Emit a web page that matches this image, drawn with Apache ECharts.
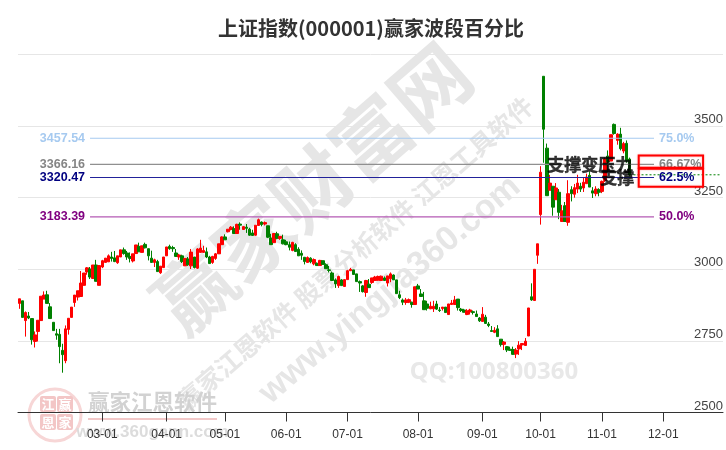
<!DOCTYPE html>
<html><head><meta charset="utf-8"><style>html,body{margin:0;padding:0;background:#fff}#c{width:726px;height:450px}</style>
<script src="https://cdn.jsdelivr.net/npm/echarts@6/dist/echarts.min.js"></script></head><body><div id="c"></div>
<script>
const opens=[2881,2890,2821,2837,2828,2748,2783,2821,2896,2911,
2869,2815,2775,2773,2717,2681,2790,2832,2884,2903,
2905,2944,2991,3001,2968,3015,2944,3008,3024,3026,
3043,3040,3023,3043,3068,3057,3045,3029,3055,3080,
3059,3087,3072,3039,3024,3027,2988,3006,3047,3080,
3076,3057,3043,3047,3012,3036,3012,3043,3004,3059,
3059,3061,3043,3024,3038,3054,3086,3113,3131,3139,
3142,3125,3158,3139,3147,3140,3127,3119,3153,3165,
3158,3152,3109,3093,3124,3108,3103,3096,3086,3066,
3086,3070,3056,3042,3024,3039,3019,3021,3013,3030,
3016,2998,2987,2963,2943,2963,2940,2964,2995,2998,
2984,2957,2942,2919,2948,2954,2961,2962,2961,2970,
2952,2967,2980,2963,2911,2893,2884,2885,2885,2877,
2942,2914,2890,2879,2862,2862,2879,2858,2863,2868,
2842,2877,2877,2896,2861,2858,2842,2851,2852,2844,
2830,2818,2833,2809,2786,2780,2792,2756,2738,2730,
2721,2720,2704,2722,2736,2734,2767,2904,2891,3049,
3191,3674,3423,3276,3290,3243,3269,3167,3222,3164,
3278,3262,3280,3290,3284,3299,3328,3274,3264,3278,
3272,3310,3395,3378,3506,3450,3472,3413,3440,3385];
const closes=[2897,2832,2849,2830,2754,2771,2822,2906,2910,2881,
2828,2786,2770,2730,2702,2792,2829,2868,2910,2925,
2952,2987,3005,2973,3015,2958,3013,3030,3039,3047,
3038,3027,3047,3068,3055,3043,3038,3054,3085,3061,
3082,3075,3047,3024,3033,2992,3011,3043,3078,3072,
3072,3045,3050,3027,3038,3016,3060,3006,3071,3074,
3066,3043,3020,3045,3054,3089,3113,3103,3140,3147,
3125,3157,3154,3149,3143,3119,3118,3154,3173,3156,
3163,3112,3086,3125,3108,3115,3089,3086,3077,3094,
3062,3047,3049,3027,3041,3026,3034,3013,3031,3017,
3002,2996,2961,2949,2975,2943,2964,2995,3000,2982,
2957,2952,2922,2961,2936,2970,2973,2975,2976,2961,
2977,2984,2963,2915,2901,2885,2893,2894,2877,2939,
2931,2905,2859,2864,2871,2871,2861,2856,2868,2849,
2879,2882,2893,2866,2856,2850,2855,2858,2849,2835,
2820,2843,2811,2804,2783,2787,2765,2737,2746,2718,
2717,2703,2718,2735,2741,2749,2865,2893,3000,3089,
3339,3489,3257,3301,3217,3284,3199,3204,3167,3264,
3264,3285,3301,3280,3304,3322,3287,3266,3280,3269,
3307,3385,3375,3470,3474,3472,3421,3439,3379,3330];
const lows=[2862,2832,2765,2826,2737,2727,2748,2821,2896,2881,
2828,2786,2754,2672,2639,2672,2772,2832,2869,2891,
2905,2944,2981,2966,2966,2958,2944,3004,3024,3026,
3027,3025,3019,3043,3051,3033,3024,3024,3055,3061,
3059,3073,3031,3024,3008,2992,2984,3006,3047,3068,
3061,3043,3033,3022,3012,3012,3001,3003,3001,3059,
3059,3039,3019,3019,3033,3054,3086,3103,3129,3136,
3124,3125,3138,3138,3127,3117,3118,3117,3153,3150,
3153,3109,3086,3093,3105,3103,3087,3084,3066,3063,
3061,3047,3033,3017,3024,3021,3014,3013,3013,3017,
3002,2989,2959,2935,2935,2943,2940,2964,2995,2982,
2957,2921,2919,2904,2936,2949,2959,2960,2961,2959,
2940,2955,2963,2915,2896,2875,2876,2882,2866,2877,
2931,2905,2859,2856,2861,2851,2858,2851,2856,2849,
2842,2877,2877,2856,2851,2849,2840,2842,2842,2835,
2816,2818,2809,2798,2783,2777,2765,2730,2718,2711,
2715,2701,2690,2701,2718,2734,2767,2890,2891,3019,
3156,3372,3257,3276,3187,3243,3175,3167,3167,3152,
3237,3250,3266,3270,3270,3299,3287,3249,3255,3255,
3266,3305,3340,3378,3470,3435,3415,3405,3372,3325];
const highs=[2897,2890,2853,2851,2828,2783,2822,2906,2923,2925,
2882,2815,2792,2792,2740,2804,2829,2868,2910,2925,
2994,2987,3008,3008,3015,3033,3013,3033,3039,3052,
3061,3064,3047,3068,3076,3064,3059,3054,3085,3093,
3082,3093,3072,3065,3037,3033,3011,3043,3078,3086,
3082,3071,3054,3051,3038,3043,3071,3043,3074,3103,
3082,3076,3047,3047,3057,3089,3115,3122,3140,3151,
3150,3159,3164,3151,3158,3145,3138,3154,3177,3167,
3167,3152,3124,3125,3131,3115,3121,3103,3097,3096,
3091,3077,3066,3042,3045,3042,3038,3024,3033,3030,
3021,3012,2992,2968,2978,2966,2964,2998,3005,2998,
2984,2961,2945,2963,2966,2970,2977,2978,2978,2975,
2977,2989,2982,2963,2925,2898,2900,2898,2887,2939,
2949,2931,2921,2890,2887,2890,2890,2868,2868,2868,
2879,2893,2907,2896,2865,2862,2861,2862,2856,2856,
2833,2868,2841,2816,2802,2798,2805,2756,2749,2732,
2730,2730,2725,2749,2742,2760,2865,2951,3000,3089,
3360,3674,3439,3330,3290,3301,3280,3225,3235,3311,
3290,3298,3330,3302,3319,3334,3342,3287,3290,3283,
3310,3390,3415,3470,3509,3475,3494,3445,3450,3390];
const slotCount=230;
const tickIndex=[27,48,67,87,107,130,151,170,190,210];
const tickLabels=['03-01','04-01','05-01','06-01','07-01','08-01','09-01','10-01','11-01','12-01'];
const categories=Array.from({length:slotCount},(_,i)=>{const k=tickIndex.indexOf(i);return k>=0?tickLabels[k]:String(i);});
const levelValues=[3457.54,3366.16,3320.47,3183.39];
const levelPercents=['75.0%','66.67%','62.5%','50.0%'];
const levelColors=['#a6caf0','#858585','#000080','#800080'];
const lineColors=['#a6caf0','#909090','#22229a','#b45ab4'];
const levelStart=23, levelEnd=207;
const lastClose=3330, lastIndex=199;
const boxes=[[202,223,3397,3355],[202,223,3351,3288]];
const notes=[{idx:186,val:3367,text:'支撑变压力'},{idx:195,val:3322,text:'支撑'}];

const candleData=opens.map((o,i)=>[o,closes[i],lows[i],highs[i]]);
const levelSeries=levelValues.map((v,k)=>{
  const d=new Array(slotCount).fill(null);
  const lbl=(pos,txt)=>({show:true,position:pos,distance:5,formatter:txt,color:levelColors[k],fontFamily:'Liberation Sans',fontSize:12.5,fontWeight:'bold'});
  d[levelStart]={value:v,label:lbl('left',v.toFixed(2))};
  d[levelEnd]={value:v,label:lbl('right',levelPercents[k])};
  return {type:'line',data:d,connectNulls:true,showSymbol:true,showAllSymbol:true,symbol:'circle',symbolSize:0,silent:true,animation:false,z:3,
    lineStyle:{color:lineColors[k],width:1.2},itemStyle:{color:lineColors[k]}};
});
const lastLine=new Array(slotCount).fill(null);lastLine[lastIndex]=lastClose;lastLine[slotCount-1]=lastClose;

const wm='#e6e6e6';
const deg=a=>a*Math.PI/180;
const chart=echarts.init(document.getElementById('c'),null,{renderer:'canvas'});
chart.setOption({
  animation:false,backgroundColor:'#fff',
  title:{text:'上证指数(000001)赢家波段百分比',left:213,top:13,textStyle:{color:'#333',fontSize:20,fontWeight:'bold',fontFamily:'Noto Sans CJK SC'}},
  grid:{left:18,right:3,top:54.5,bottom:37.5},
  xAxis:{type:'category',data:categories,boundaryGap:true,
    axisLine:{lineStyle:{color:'#333',width:1}},
    axisTick:{show:true,alignWithLabel:true,length:9,lineStyle:{color:'#333',width:1},customValues:tickIndex},
    axisLabel:{interval:(i)=>tickIndex.includes(i),color:'#333',fontFamily:'Liberation Sans',fontSize:12,margin:16,hideOverlap:false},
    splitLine:{show:false}},
  yAxis:{type:'value',position:'right',min:2500,max:3750,interval:250,
    axisLine:{show:false},axisTick:{show:false},
    axisLabel:{inside:true,margin:0,verticalAlign:'bottom',color:'#444',fontFamily:'Liberation Sans',fontSize:13,formatter:v=>v>=3750?'':String(v)},
    splitLine:{lineStyle:{color:'#e6e6e6',width:1}}},
  graphic:{elements:[
    {type:'text',z:-10,x:312,y:188,rotation:deg(41),style:{text:'赢家财富网',align:'center',verticalAlign:'middle',fill:wm,font:'bold 78px "Noto Sans CJK SC"'}},
    {type:'text',z:-10,x:355,y:253,rotation:deg(41),style:{text:'赢家江恩软件 股票分析软件 江恩工具软件',align:'center',verticalAlign:'middle',fill:wm,font:'bold 25px "Noto Sans CJK SC"'}},
    {type:'text',z:-10,x:390,y:290,rotation:deg(40.5),style:{text:'www.yingjia360.com',align:'center',verticalAlign:'middle',fill:wm,font:'bold 34px "Liberation Sans"'}},
    {type:'text',z:-10,x:494,y:372,style:{text:'QQ:100800360',align:'center',verticalAlign:'middle',fill:'#e8e8e8',font:'bold 24px "Noto Sans"'}},
    {type:'circle',z:-10,shape:{cx:55,cy:415,r:26},style:{fill:'none',stroke:'#f7d6d6',lineWidth:3}},
    {type:'rect',z:-10,shape:{x:40,y:396,width:16,height:16,r:2},style:{fill:'#f3c6c6'}},
    {type:'rect',z:-10,shape:{x:57,y:396,width:16,height:16,r:2},style:{fill:'#f3c6c6'}},
    {type:'rect',z:-10,shape:{x:40,y:414,width:16,height:16,r:2},style:{fill:'#f3c6c6'}},
    {type:'rect',z:-10,shape:{x:57,y:414,width:16,height:16,r:2},style:{fill:'#f3c6c6'}},
    {type:'text',z:-9,x:48,y:404,style:{text:'江',align:'center',verticalAlign:'middle',fill:'#fff',font:'bold 13px "Noto Sans CJK SC"'}},
    {type:'text',z:-9,x:65,y:404,style:{text:'赢',align:'center',verticalAlign:'middle',fill:'#fff',font:'bold 13px "Noto Sans CJK SC"'}},
    {type:'text',z:-9,x:48,y:422,style:{text:'恩',align:'center',verticalAlign:'middle',fill:'#fff',font:'bold 13px "Noto Sans CJK SC"'}},
    {type:'text',z:-9,x:65,y:422,style:{text:'家',align:'center',verticalAlign:'middle',fill:'#fff',font:'bold 13px "Noto Sans CJK SC"'}},
    {type:'text',z:-9,x:152.5,y:402,style:{text:'赢家江恩软件',align:'center',verticalAlign:'middle',fill:'#d2d2d2',font:'bold 21.5px "Noto Sans CJK SC"'}},
    {type:'rect',z:-9,shape:{x:88,y:418,width:129,height:2},style:{fill:'#f2c8c8'}},
    {type:'text',z:-9,x:152.5,y:432,style:{text:'www.360gann.com',align:'center',verticalAlign:'middle',fill:'#dcdcdc',font:'bold 17px "Liberation Sans"'}}
  ]},
  series:[
    {type:'candlestick',data:candleData,barWidth:3,z:2,silent:true,
      itemStyle:{color:'#ff0000',color0:'#008000',borderColor:'#ff0000',borderColor0:'#008000',borderWidth:1}},
    ...levelSeries,
    {type:'line',data:lastLine,connectNulls:true,showSymbol:false,silent:true,z:3,lineStyle:{color:'#008000',width:1,type:[2,2]}},
    {type:'scatter',silent:true,symbolSize:0,z:6,
      data:notes.map(n=>({value:[n.idx,n.val],label:{show:true,position:'inside',formatter:n.text,color:'#000',fontFamily:'Noto Sans CJK SC',fontWeight:'bold',fontSize:17,textBorderColor:'#000',textBorderWidth:0.4}})),
      markArea:{silent:true,z:7,itemStyle:{color:'rgba(0,0,0,0)',borderColor:'#ff0000',borderWidth:2,shadowColor:'rgba(255,0,0,0.35)',shadowBlur:2},
        data:boxes.map(b=>[{coord:[b[0],b[2]]},{coord:[b[1],b[3]]}])}}
  ]
});
</script></body></html>
